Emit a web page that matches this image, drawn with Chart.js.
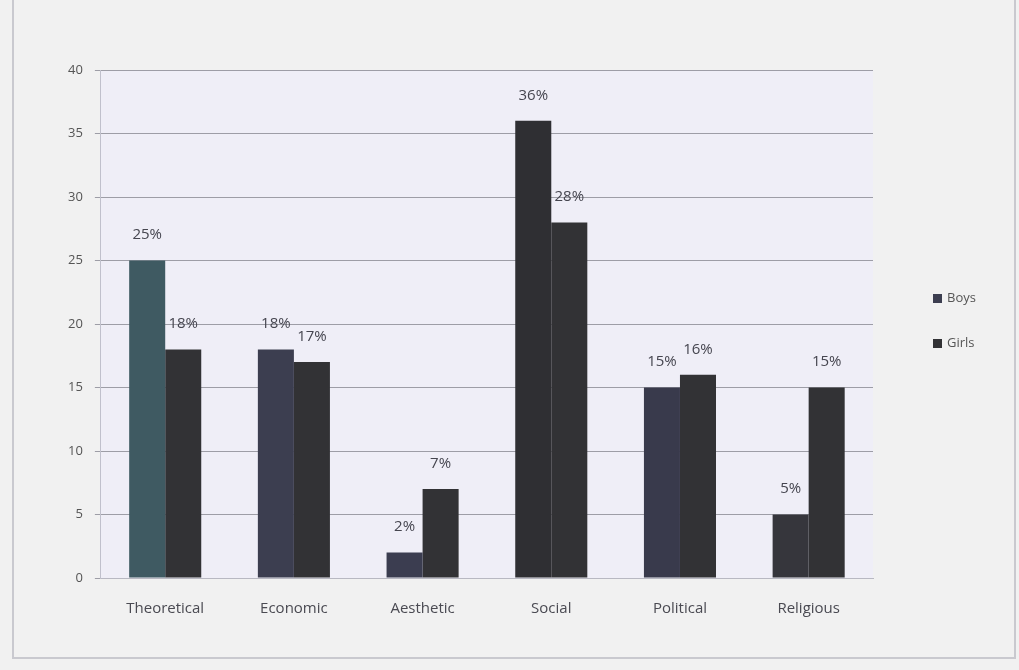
<!DOCTYPE html>
<html>
<head>
<meta charset="utf-8">
<script src="https://cdn.jsdelivr.net/npm/chart.js@4/dist/chart.umd.min.js"></script>
<style>
  html, body { margin: 0; padding: 0; background: #f1f1f1; }
  #wrap { width: 1019px; height: 670px; position: relative; }
  canvas { display: block; }
</style>
</head>
<body>
<div id="wrap"><canvas id="c" width="1019" height="670"></canvas></div>
<script>
// Value types and the share (%) of boys and girls preferring each one
const categories = ['Theoretical', 'Economic', 'Aesthetic', 'Social', 'Political', 'Religious'];
const boys  = [25, 18, 2, 36, 15, 5];
const girls = [18, 17, 7, 28, 16, 15];
const seriesNames = ['Boys', 'Girls'];
const yTicks = [0, 5, 10, 15, 20, 25, 30, 35, 40];

const FONT = "'Open Sans', 'Liberation Sans', sans-serif";

// Page background, plot-area tint and outer frame
const backdrop = {
  id: 'backdrop',
  beforeDraw(chart) {
    const { ctx, chartArea: a } = chart;
    ctx.save();
    ctx.fillStyle = '#f1f1f1';
    ctx.fillRect(0, 0, chart.width, chart.height);
    ctx.fillStyle = '#efeef7';
    ctx.fillRect(a.left, a.top, a.right - a.left, a.bottom - a.top);
    ctx.strokeStyle = '#c9c9cf';
    ctx.lineWidth = 2;
    ctx.beginPath();
    ctx.moveTo(13, 0);
    ctx.lineTo(13, 658);
    ctx.lineTo(1015, 658);
    ctx.lineTo(1015, 0);
    ctx.stroke();
    ctx.restore();
  }
};

// Percentage labels above each bar
const valueLabels = {
  id: 'valueLabels',
  afterDatasetsDraw(chart) {
    const { ctx } = chart;
    ctx.save();
    ctx.font = '15px ' + FONT;
    ctx.fillStyle = '#45454f';
    ctx.textAlign = 'center';
    ctx.textBaseline = 'bottom';
    chart.data.datasets.forEach((ds, i) => {
      chart.getDatasetMeta(i).data.forEach((el, j) => {
        ctx.fillText(ds.data[j] + '%', el.x, el.y - 18);
      });
    });
    ctx.restore();
  }
};

// Series key to the right of the plot, stacked and centred vertically
const seriesKey = {
  id: 'seriesKey',
  afterDraw(chart) {
    const { ctx, chartArea: a } = chart;
    const sets = chart.data.datasets;
    const gap = 45;
    const x = a.right + 60;
    const y0 = (a.top + a.bottom) / 2 - gap * (sets.length - 1) / 2 - 3;
    ctx.save();
    ctx.font = '13px ' + FONT;
    ctx.textAlign = 'left';
    ctx.textBaseline = 'middle';
    sets.forEach((ds, i) => {
      const y = y0 + i * gap;
      ctx.fillStyle = Array.isArray(ds.backgroundColor) ? ds.backgroundColor[1] : ds.backgroundColor;
      ctx.fillRect(x, y - 4.5, 9, 9);
      ctx.fillStyle = '#555';
      ctx.fillText(ds.label, x + 14, y);
    });
    ctx.restore();
  }
};

new Chart(document.getElementById('c'), {
  type: 'bar',
  data: {
    labels: categories,
    datasets: [
      { label: seriesNames[0], data: boys,
        backgroundColor: ['#3f5a62', '#3c3e50', '#3b3d50', '#2f2f33', '#393a4c', '#36363c'] },
      { label: seriesNames[1], data: girls, backgroundColor: '#323235' }
    ]
  },
  options: {
    responsive: false,
    animation: false,
    layout: { padding: { top: 70, left: 56, right: 146, bottom: 38 } },
    datasets: { bar: { barPercentage: 1, categoryPercentage: 0.56 } },
    plugins: {
      tooltip: { enabled: false },
      legend: { display: false }
    },
    scales: {
      x: {
        grid: { display: false },
        border: { display: true, color: '#b8b8c2' },
        ticks: { font: { size: 15, family: FONT }, color: '#4a4a52', padding: 14 }
      },
      y: {
        min: 0, max: 40,
        afterBuildTicks(axis) { axis.ticks = yTicks.map(v => ({ value: v })); },
        grid: { color: '#9d9da6', lineWidth: 1, drawTicks: true, tickLength: 6 },
        border: { display: true, color: '#c0c0cc' },
        ticks: { font: { size: 13, family: FONT }, color: '#555', padding: 12 }
      }
    }
  },
  plugins: [backdrop, valueLabels, seriesKey]
});
</script>
</body>
</html>
